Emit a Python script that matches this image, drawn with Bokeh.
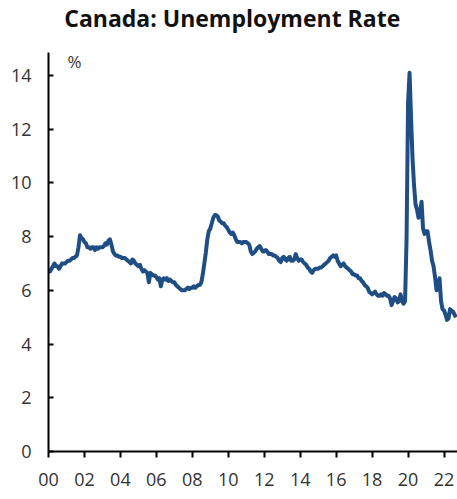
import numpy as np
import pandas as pd
from bokeh.plotting import figure
from bokeh.models import FixedTicker, Label, Range1d
from bokeh.embed import file_html
from bokeh.resources import INLINE

# Canada unemployment rate (%), monthly values
rate_2000 = [6.7, 6.7, 6.8, 6.9, 7.0, 6.9, 6.9, 6.8, 6.9, 7.0, 7.0, 7.0]
rate_2001 = [7.05, 7.1, 7.1, 7.15, 7.2, 7.2, 7.25, 7.3, 7.6, 8.05, 7.95, 7.9]
rate_2002 = [7.8, 7.75, 7.6, 7.6, 7.55, 7.6, 7.6, 7.5, 7.6, 7.55, 7.6, 7.6]
rate_2003 = [7.6, 7.65, 7.75, 7.7, 7.85, 7.9, 7.7, 7.45, 7.35, 7.3, 7.3, 7.25]
rate_2004 = [7.25, 7.2, 7.2, 7.2, 7.15, 7.1, 7.05, 7.0, 7.15, 7.1, 7.0, 6.95]
rate_2005 = [6.9, 6.95, 6.8, 6.7, 6.75, 6.7, 6.65, 6.3, 6.65, 6.6, 6.55, 6.55]
rate_2006 = [6.5, 6.4, 6.45, 6.15, 6.4, 6.45, 6.4, 6.45, 6.35, 6.4, 6.35, 6.3]
rate_2007 = [6.3, 6.2, 6.15, 6.1, 6.05, 6.0, 6.0, 6.0, 6.05, 6.1, 6.05, 6.1]
rate_2008 = [6.1, 6.15, 6.1, 6.15, 6.2, 6.2, 6.3, 6.6, 7.0, 7.4, 7.9, 8.2]
rate_2009 = [8.3, 8.5, 8.7, 8.8, 8.8, 8.75, 8.6, 8.55, 8.5, 8.5, 8.4, 8.35]
rate_2010 = [8.25, 8.15, 8.1, 8.15, 8.05, 7.9, 7.8, 7.8, 7.8, 7.75, 7.8, 7.8]
rate_2011 = [7.8, 7.75, 7.7, 7.45, 7.35, 7.4, 7.45, 7.55, 7.6, 7.65, 7.55, 7.45]
rate_2012 = [7.45, 7.5, 7.45, 7.35, 7.35, 7.35, 7.3, 7.3, 7.25, 7.2, 7.1, 7.05]
rate_2013 = [7.2, 7.25, 7.15, 7.1, 7.2, 7.25, 7.1, 7.1, 7.15, 7.35, 7.2, 7.1]
rate_2014 = [7.15, 7.15, 7.05, 7.0, 6.95, 6.85, 6.8, 6.7, 6.65, 6.75, 6.8, 6.8]
rate_2015 = [6.8, 6.85, 6.85, 6.9, 6.95, 7.0, 7.05, 7.1, 7.2, 7.25, 7.3, 7.25]
rate_2016 = [7.3, 7.1, 7.0, 6.9, 6.95, 7.0, 6.9, 6.85, 6.8, 6.75, 6.7, 6.6]
rate_2017 = [6.6, 6.55, 6.55, 6.45, 6.45, 6.35, 6.3, 6.2, 6.15, 6.1, 5.95, 5.9]
rate_2018 = [5.85, 5.9, 5.95, 5.85, 5.8, 5.8, 5.85, 5.8, 5.9, 5.85, 5.8, 5.8]
rate_2019 = [5.7, 5.45, 5.6, 5.75, 5.7, 5.55, 5.6, 5.85, 5.6, 5.5, 5.6, 7.9]
rate_2020 = [13.0, 14.1, 12.4, 10.9, 9.9, 9.2, 9.0, 8.7, 8.9, 9.3, 8.3, 8.1]
rate_2021 = [8.2, 8.2, 7.8, 7.5, 7.1, 6.9, 6.5, 6.0, 6.1, 6.45, 5.6, 5.3]
rate_2022 = [5.25, 5.1, 4.9, 4.95, 5.3, 5.25, 5.2, 5.1, 5.0]

rate = (rate_2000 + rate_2001 + rate_2002 + rate_2003 + rate_2004 + rate_2005
        + rate_2006 + rate_2007 + rate_2008 + rate_2009 + rate_2010 + rate_2011
        + rate_2012 + rate_2013 + rate_2014 + rate_2015 + rate_2016 + rate_2017
        + rate_2018 + rate_2019 + rate_2020 + rate_2021 + rate_2022)

start_month = "2000-01-01"
x_tick_years = [2000, 2002, 2004, 2006, 2008, 2010, 2012, 2014, 2016, 2018, 2020, 2022]
x_tick_labels = ["00", "02", "04", "06", "08", "10", "12", "14", "16", "18", "20", "22"]
y_ticks = [0, 2, 4, 6, 8, 10, 12, 14]
title_text = "Canada: Unemployment Rate"
unit_text = "%"

dates = pd.date_range(start_month, periods=len(rate), freq="MS")
xs = (dates.year + (dates.month - 1) / 12.0).to_numpy()

FONT = "Open Sans"
TXT = "#333333"

# the frame reaches the top of the canvas so that the title can sit inside it;
# the y axis line itself stops at 14.85 (bounds)
p = figure(width=457, height=499, output_backend="svg", toolbar_location=None,
           x_range=Range1d(2000, 2022.75), y_range=Range1d(0, 16.79),
           min_border_left=48, min_border_right=0, min_border_top=0,
           min_border_bottom=48)
p.background_fill_color = "white"
p.border_fill_color = "white"
p.outline_line_color = None
p.grid.visible = False

p.line(xs, rate, line_color="#1f4e85", line_width=4, line_join="round")

xa = p.xaxis[0]
xa.ticker = FixedTicker(ticks=x_tick_years)
xa.major_label_overrides = {y: l for y, l in zip(x_tick_years, x_tick_labels)}
xa.axis_line_width = 2
xa.axis_line_color = "black"
xa.major_tick_line_width = 2
xa.major_tick_out = 6
xa.major_tick_in = 0
xa.minor_tick_line_color = None
xa.major_label_text_font = FONT
xa.major_label_text_font_size = "18px"
xa.major_label_text_color = TXT
xa.major_label_standoff = 15

ya = p.yaxis[0]
ya.ticker = FixedTicker(ticks=y_ticks)
ya.bounds = (0, 14.85)
ya.axis_line_width = 2
ya.axis_line_color = "black"
ya.major_tick_line_width = 2
ya.major_tick_out = 0
ya.major_tick_in = 5
ya.minor_tick_line_color = None
ya.major_label_text_font = FONT
ya.major_label_text_font_size = "18px"
ya.major_label_text_color = TXT
ya.major_label_standoff = 17

p.add_layout(Label(x=2010.22, y=16.15, text=title_text, text_font=FONT,
                   text_font_size="23px", text_font_style="bold", text_color="#111111",
                   text_baseline="alphabetic", text_align="center"))

p.add_layout(Label(x=2001.05, y=14.95, text=unit_text, text_font=FONT, text_font_size="17px",
                   text_color=TXT, text_baseline="top", text_align="left"))

open("out.html", "w").write(file_html(p, INLINE))
